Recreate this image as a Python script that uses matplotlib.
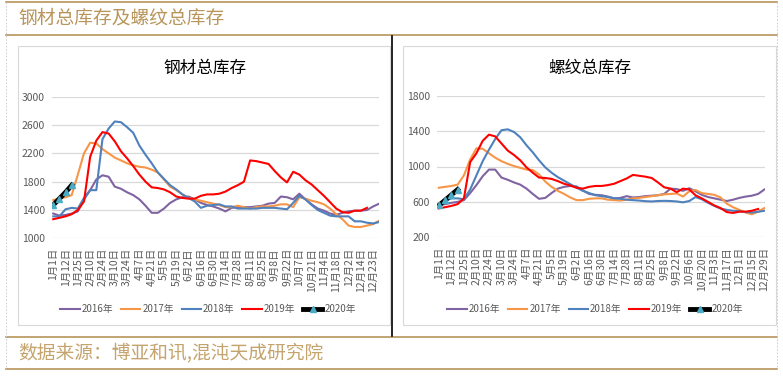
import matplotlib
matplotlib.use('Agg')
import matplotlib.pyplot as plt
from matplotlib.lines import Line2D

plt.rcParams['font.family'] = ['Noto Sans CJK SC', 'DejaVu Sans']

W, H = 783, 376

# 钢材总库存 (weekly, 54 categories)
steel_labels = ['1月1日', '1月12日', '1月25日', '2月10日', '2月24日', '3月10日', '3月24日',
                '4月7日', '4月21日', '5月5日', '5月19日', '6月2日', '6月16日', '6月30日',
                '7月14日', '7月28日', '8月11日', '8月25日', '9月8日', '9月22日', '10月7日',
                '10月21日', '11月4日', '11月18日', '12月2日', '12月14日', '12月23日']
steel_2016 = [1350, 1320, 1330, 1350, 1380, 1550, 1680, 1830, 1890, 1870, 1730, 1700, 1650, 1610,
              1550, 1460, 1360, 1360, 1420, 1500, 1550, 1580, 1590, 1550, 1500, 1470, 1450, 1420,
              1380, 1430, 1440, 1440, 1440, 1450, 1460, 1490, 1500, 1590, 1580, 1550, 1630, 1550,
              1480, 1420, 1390, 1350, 1330, 1360, 1380, 1390, 1390, 1400, 1450, 1490]
steel_2017 = [1540, 1560, 1580, 1610, 1900, 2200, 2350, 2340, 2260, 2200, 2140, 2100, 2060, 2030,
              2010, 2000, 1970, 1930, 1830, 1730, 1680, 1620, 1570, 1550, 1530, 1510, 1490, 1470,
              1440, 1440, 1460, 1440, 1420, 1440, 1450, 1450, 1460, 1480, 1480, 1440, 1580, 1560,
              1530, 1510, 1480, 1420, 1340, 1270, 1180, 1160, 1160, 1180, 1200, 1250]
steel_2018 = [1310, 1310, 1410, 1430, 1420, 1570, 1680, 1680, 2400, 2550, 2650, 2640, 2570, 2490,
              2310, 2180, 2060, 1930, 1840, 1750, 1690, 1620, 1570, 1520, 1430, 1460, 1470, 1480,
              1450, 1450, 1420, 1420, 1420, 1420, 1430, 1430, 1430, 1420, 1410, 1500, 1600, 1550,
              1470, 1400, 1360, 1320, 1310, 1310, 1310, 1240, 1240, 1220, 1210, 1230]
steel_2019 = [1270, 1290, 1310, 1340, 1400, 1520, 2150, 2380, 2500, 2480, 2370, 2230, 2130, 2020,
              1900, 1800, 1720, 1710, 1690, 1650, 1590, 1570, 1560, 1560, 1600, 1620, 1620, 1630,
              1660, 1710, 1750, 1800, 2100, 2090, 2070, 2050, 1950, 1860, 1790, 1940, 1900, 1820,
              1760, 1680, 1600, 1510, 1420, 1370, 1360, 1390, 1390, 1430]
steel_2020 = [1470, 1560, 1650, 1750]

# 螺纹总库存 (weekly, 53 categories)
rebar_labels = ['1月1日', '1月12日', '1月25日', '2月10日', '2月24日', '3月10日', '3月24日',
                '4月7日', '4月21日', '5月5日', '5月19日', '6月2日', '6月16日', '6月30日',
                '7月14日', '7月28日', '8月11日', '8月25日', '9月8日', '9月22日', '10月6日',
                '10月20日', '11月3日', '11月17日', '12月1日', '12月15日', '12月29日']
rebar_2016 = [560, 575, 590, 600, 620, 700, 790, 890, 965, 965, 875, 850, 820, 795, 750, 690,
              635, 645, 700, 750, 770, 780, 775, 730, 690, 680, 675, 660, 640, 645, 665, 650,
              655, 665, 670, 675, 690, 750, 745, 725, 755, 720, 680, 655, 640, 625, 610, 625,
              645, 660, 670, 690, 740]
rebar_2017 = [760, 770, 780, 795, 900, 1080, 1205, 1200, 1150, 1100, 1060, 1030, 1005, 985, 965,
              960, 910, 830, 770, 725, 690, 650, 620, 620, 635, 640, 640, 625, 620, 615, 625, 640,
              645, 655, 665, 675, 685, 690, 695, 660, 720, 735, 700, 690, 680, 650, 580, 540,
              510, 480, 460, 490, 530]
rebar_2018 = [570, 610, 640, 640, 630, 740, 900, 1060, 1190, 1310, 1410, 1420, 1390, 1330, 1240,
              1160, 1070, 990, 930, 880, 840, 800, 760, 725, 700, 675, 665, 655, 640, 635, 625,
              620, 615, 608, 605, 610, 612, 610, 605, 595, 610, 655, 630, 590, 555, 525, 510,
              500, 495, 485, 480, 488, 500]
rebar_2019 = [527, 540, 555, 575, 640, 1050, 1150, 1290, 1360, 1340, 1260, 1180, 1130, 1070, 990,
              930, 875, 870, 860, 835, 805, 785, 760, 750, 770, 780, 780, 790, 805, 835, 865, 905,
              895, 885, 870, 820, 765, 750, 710, 750, 740, 675, 640, 600, 560, 530, 485, 475,
              490, 490, 500, 520]
rebar_2020 = [560, 620, 680, 740]

years = ['2016年', '2017年', '2018年', '2019年', '2020年']
colors = ['#8064A2', '#F79646', '#4F81BD', '#FF0000']

GOLD = '#B8955A'
GREY = '#595959'


def box(x0, y0, x1, y1):
    return [x0 / W, 1 - y1 / H, (x1 - x0) / W, (y1 - y0) / H]


fig = plt.figure(figsize=(W / 100, H / 100), dpi=100)

# page frame drawn in pixel coordinates
bg = fig.add_axes([0, 0, 1, 1])
bg.set_xlim(0, W)
bg.set_ylim(H, 0)
bg.axis('off')
for yy in (2, 35, 337, 369):
    bg.plot([6, 777], [yy, yy], color=GOLD, lw=1.2)
for xx in (6, 777):
    bg.plot([xx, xx], [2, 369], color='#C8C8C8', lw=0.6, ls=(0, (2, 2)))
bg.plot([392, 392], [36, 336], color='black', lw=1.2)
for x0, x1 in ((18, 390), (403, 776)):
    bg.add_patch(plt.Rectangle((x0, 46), x1 - x0, 279, fill=False, ec='#D9D9D9', lw=0.8))
bg.text(18, 18, '钢材总库存及螺纹总库存', color=GOLD, fontsize=13.5, va='center', ha='left')
bg.text(18, 353, '数据来源：博亚和讯,混沌天成研究院', color='#C4A46C', fontsize=13.5,
        va='center', ha='left', style='italic')


def draw(rect, title, title_x, series, s2020, labels, ylim, yticks, nx, xlim, legend_x):
    ax = fig.add_axes(box(*rect))
    x = range(nx)
    for vals, c in zip(series, colors):
        ax.plot(list(x)[:len(vals)], vals, color=c, lw=1.5)
    ax.plot(list(x)[:len(s2020)], s2020, color='black', lw=3.5, marker='^',
            markersize=5, markerfacecolor='#4BACC6', markeredgecolor='#4BACC6')
    ax.set_xlim(*xlim)
    ax.set_ylim(*ylim)
    ax.set_yticks(yticks)
    ax.set_xticks(range(0, nx, 2))
    ax.set_xticklabels(labels, rotation=90, fontsize=7.5, color=GREY)
    ax.tick_params(axis='y', length=0, labelsize=7.5, labelcolor=GREY, pad=5)
    ax.tick_params(axis='x', length=0, pad=7)
    ax.grid(axis='y', color='#D9D9D9', lw=0.9)
    ax.set_axisbelow(True)
    for s in ax.spines.values():
        s.set_visible(False)
    fig.text(title_x / W, 1 - 68 / H, title, fontsize=12, ha='center', va='center')
    handles = [Line2D([], [], color=c, lw=1.5) for c in colors]
    handles.append(Line2D([], [], color='black', lw=3.5, marker='^', markersize=5,
                          markerfacecolor='#4BACC6', markeredgecolor='#4BACC6'))
    fig.legend(handles, years, loc='center', bbox_to_anchor=(legend_x / W, 1 - 309 / H),
               ncol=5, frameon=False, fontsize=7, labelcolor=GREY, handlelength=2.0,
               handletextpad=0.2, columnspacing=0.8)
    return ax


draw((51.7, 96.7, 379.3, 238.3), '钢材总库存', 205,
     [steel_2016, steel_2017, steel_2018, steel_2019], steel_2020, steel_labels,
     (1000, 3000), [1000, 1400, 1800, 2200, 2600, 3000], 54, (-0.25, 53), 208)
draw((437, 95.7, 765, 237.3), '螺纹总库存', 590,
     [rebar_2016, rebar_2017, rebar_2018, rebar_2019], rebar_2020, rebar_labels,
     (200, 1800), [200, 600, 1000, 1400, 1800], 53, (-0.3, 52.1), 595)

fig.savefig('out.png', dpi=100)
